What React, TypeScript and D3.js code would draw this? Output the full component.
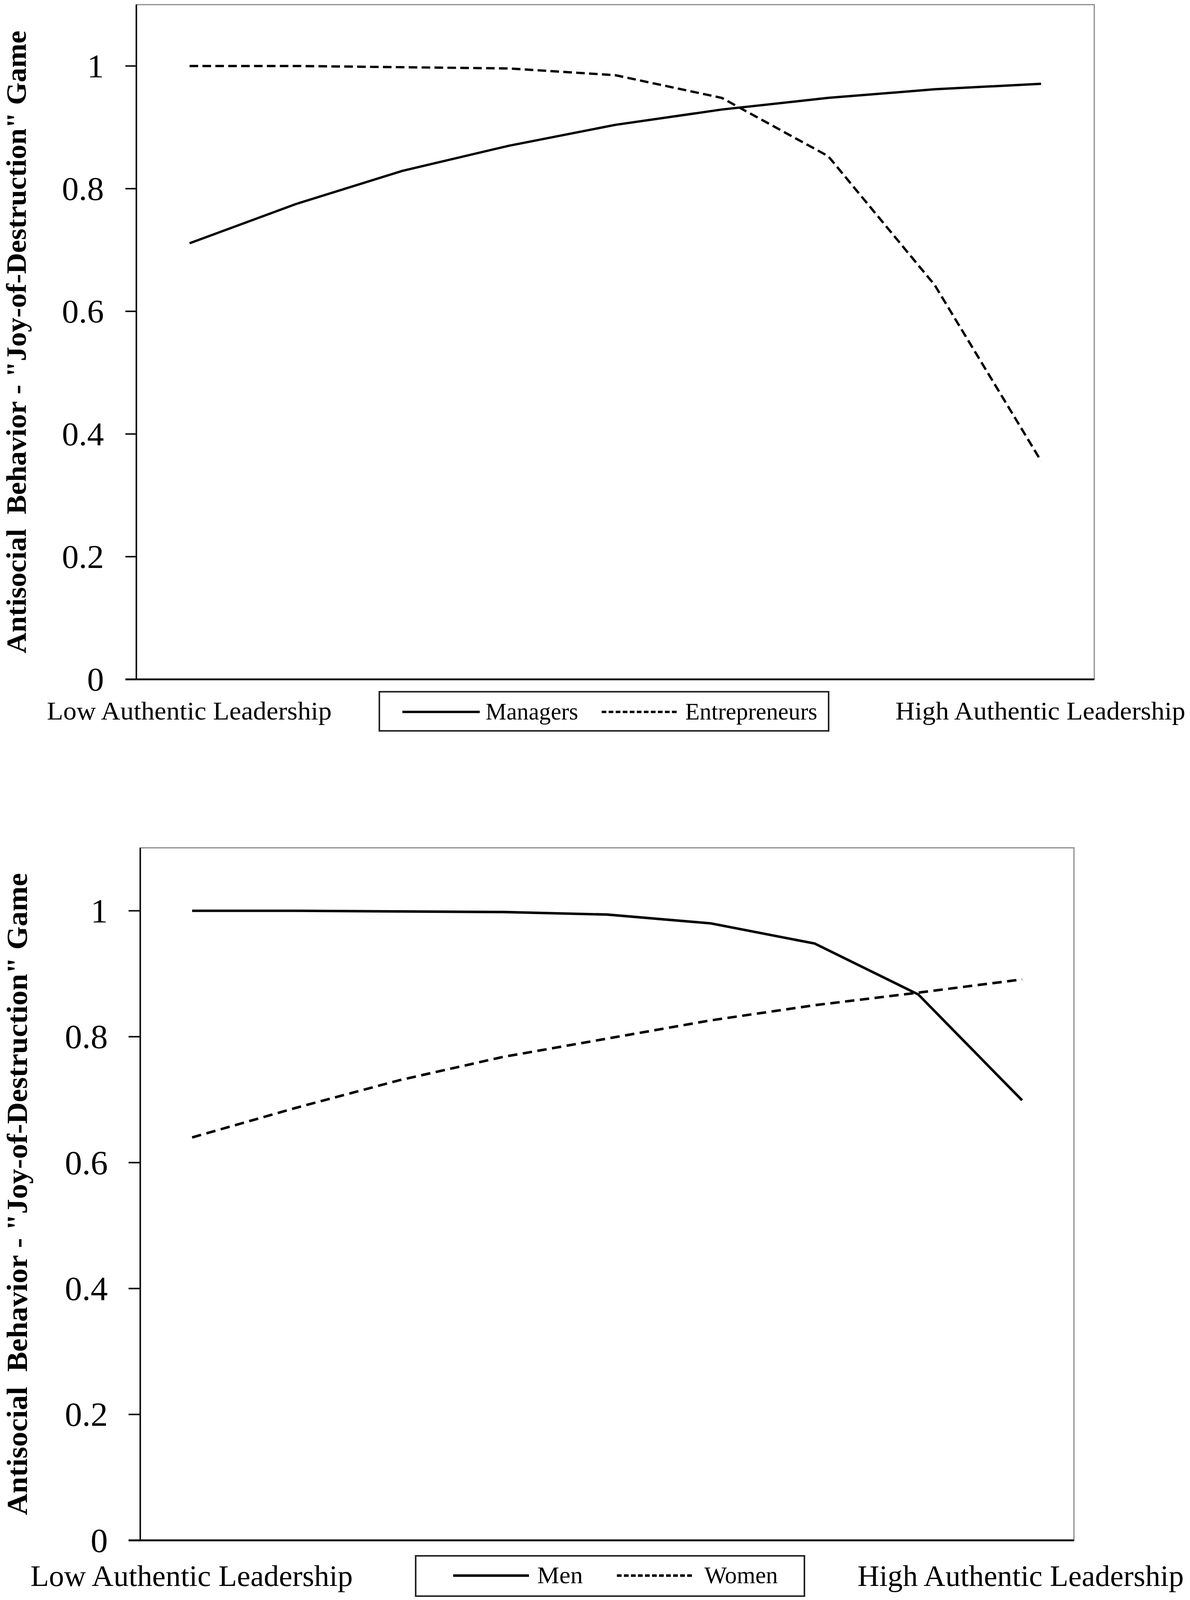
import React from 'react';
import * as d3 from 'd3';

// ---- data ----
const leadershipLevels = [1, 2, 3, 4, 5, 6, 7, 8, 9];
const yTicks = [0, 0.2, 0.4, 0.6, 0.8, 1];
const yTickLabels = ['0', '0.2', '0.4', '0.6', '0.8', '1'];
const yDomain = [0, 1.1];
const xEndLabels = ['Low Authentic Leadership', 'High Authentic Leadership'];
const yTitle = 'Antisocial  Behavior - "Joy-of-Destruction" Game';

const managers = [0.711, 0.775, 0.829, 0.870, 0.904, 0.929, 0.948, 0.962, 0.971];
const entrepreneurs = [1.0, 1.0, 0.998, 0.996, 0.985, 0.948, 0.853, 0.643, 0.356];
const men = [1.0, 1.0, 0.999, 0.998, 0.994, 0.980, 0.948, 0.867, 0.699];
const women = [0.640, 0.687, 0.731, 0.768, 0.797, 0.826, 0.850, 0.870, 0.891];

const seriesTop = [
  { name: 'Managers', values: managers, dashed: false },
  { name: 'Entrepreneurs', values: entrepreneurs, dashed: true },
];
const seriesBottom = [
  { name: 'Men', values: men, dashed: false },
  { name: 'Women', values: women, dashed: true },
];

const FONT = '"Liberation Serif", "Times New Roman", Times, serif';

type Cfg = {
  left: number; right: number; top: number; bottom: number;
  tickLabelX: number; tickLen: number; tickFont: number;
  titleX: number; titleFont: number; titleLen: number;
  endFont: number; endBaseline: number; lowX: number; lowLen: number; highX: number; highLen: number;
  legend: { x: number; y: number; w: number; h: number; font: number; baseline: number;
    items: { x1: number; x2: number; textX: number; textLen: number }[] };
  stroke: number; dash: string;
};

function Panel({ series, cfg }: { series: { name: string; values: number[]; dashed: boolean }[]; cfg: Cfg }) {
  const x = d3.scalePoint<number>().domain(leadershipLevels).range([cfg.left, cfg.right]).padding(0.5);
  const y = d3.scaleLinear().domain(yDomain).range([cfg.bottom, cfg.top]);
  const line = d3.line<number>()
    .x((_, i) => x(leadershipLevels[i]) as number)
    .y((d) => y(d));
  const cy = (cfg.top + cfg.bottom) / 2;
  const L = cfg.legend;
  return (
    <g fontFamily={FONT} fill="#000">
      {/* plot area border */}
      <rect x={cfg.left} y={cfg.top} width={cfg.right - cfg.left} height={cfg.bottom - cfg.top}
        fill="none" stroke="#8a8a8a" strokeWidth={3} />
      {/* axes */}
      <line x1={cfg.left} x2={cfg.left} y1={cfg.top} y2={cfg.bottom + 2} stroke="#111" strokeWidth={4} />
      <line x1={cfg.left - cfg.tickLen} x2={cfg.right} y1={cfg.bottom} y2={cfg.bottom} stroke="#111" strokeWidth={5} />
      {yTicks.map((t, i) => (
        <g key={t}>
          <line x1={cfg.left - cfg.tickLen} x2={cfg.left} y1={y(t)} y2={y(t)} stroke="#111" strokeWidth={4} />
          <text x={cfg.tickLabelX} y={y(t) + cfg.tickFont * 0.338} textAnchor="end" fontSize={cfg.tickFont}>
            {yTickLabels[i]}
          </text>
        </g>
      ))}
      {/* y title */}
      <text transform={`translate(${cfg.titleX},${cy}) rotate(-90)`} textAnchor="middle"
        fontSize={cfg.titleFont} fontWeight="bold" textLength={cfg.titleLen} lengthAdjust="spacingAndGlyphs"
        style={{ whiteSpace: 'pre' }}>
        {yTitle}
      </text>
      {/* series */}
      {series.map((s) => (
        <path key={s.name} d={line(s.values) || ''} fill="none" stroke="#000" strokeWidth={cfg.stroke}
          strokeDasharray={s.dashed ? cfg.dash : undefined} strokeLinejoin="round" />
      ))}
      {/* end labels */}
      <text x={cfg.lowX} y={cfg.endBaseline} fontSize={cfg.endFont} textLength={cfg.lowLen} lengthAdjust="spacingAndGlyphs">{xEndLabels[0]}</text>
      <text x={cfg.highX} y={cfg.endBaseline} fontSize={cfg.endFont} textLength={cfg.highLen} lengthAdjust="spacingAndGlyphs">{xEndLabels[1]}</text>
      {/* legend */}
      <rect x={L.x} y={L.y} width={L.w} height={L.h} fill="#fff" stroke="#222" strokeWidth={4} />
      {series.map((s, i) => {
        const it = L.items[i];
        return (
          <g key={s.name}>
            <line x1={it.x1} x2={it.x2} y1={L.baseline - 20} y2={L.baseline - 20} stroke="#000"
              strokeWidth={cfg.stroke} strokeDasharray={s.dashed ? '12 6' : undefined} />
            <text x={it.textX} y={L.baseline} fontSize={L.font} textLength={it.textLen} lengthAdjust="spacingAndGlyphs">{s.name}</text>
          </g>
        );
      })}
    </g>
  );
}

const cfgTop: Cfg = {
  left: 349, right: 2801, top: 12, bottom: 1754,
  tickLabelX: 266, tickLen: 28, tickFont: 86,
  titleX: 66, titleFont: 72, titleLen: 1608,
  endFont: 67, endBaseline: 1858, lowX: 120, lowLen: 729, highX: 2292, highLen: 742,
  legend: { x: 971, y: 1786, w: 1150, h: 101, font: 61, baseline: 1858,
    items: [{ x1: 1030, x2: 1228, textX: 1243, textLen: 237 }, { x1: 1540, x2: 1735, textX: 1754, textLen: 338 }] },
  stroke: 6, dash: '22 11',
};

const cfgBottom: Cfg = {
  left: 359, right: 2749, top: 2189, bottom: 3977,
  tickLabelX: 276, tickLen: 30, tickFont: 88,
  titleX: 69, titleFont: 74, titleLen: 1658,
  endFont: 76, endBaseline: 4095, lowX: 78, lowLen: 825, highX: 2195, highLen: 835,
  legend: { x: 1064, y: 4017, w: 995, h: 104, font: 62, baseline: 4088,
    items: [{ x1: 1160, x2: 1354, textX: 1375, textLen: 117 }, { x1: 1579, x2: 1777, textX: 1803, textLen: 188 }] },
  stroke: 6.5, dash: '24 14',
};

export default function App() {
  return (
    <>
      <style>{'html,body{margin:0;padding:0;overflow:hidden;background:#fff;}'}</style>
      <svg viewBox="0 0 3046 4131" preserveAspectRatio="none"
        style={{ position: 'fixed', left: 0, top: 0, width: '100vw', height: '100vh', display: 'block', background: '#fff' }}>
        <rect x={0} y={0} width={3046} height={4131} fill="#fff" />
        <Panel series={seriesTop} cfg={cfgTop} />
        <Panel series={seriesBottom} cfg={cfgBottom} />
      </svg>
    </>
  );
}
